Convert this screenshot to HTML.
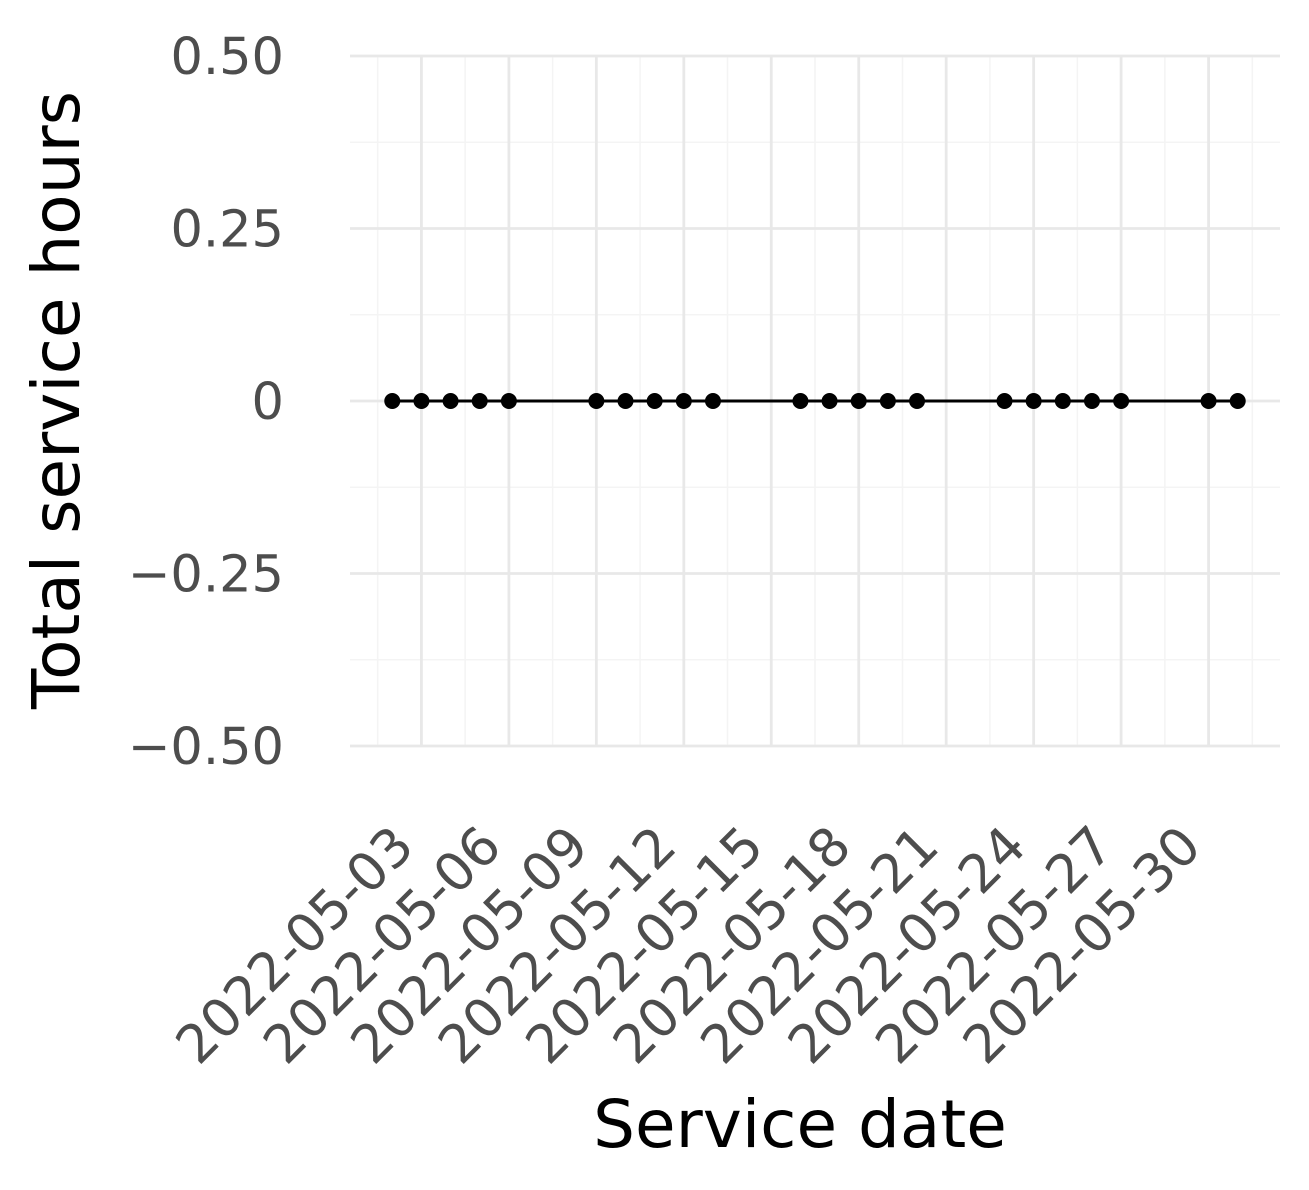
<!DOCTYPE html>
<html><head><meta charset="utf-8"><style>
html,body{margin:0;padding:0;background:#fff;}
svg{display:block;font-family:"DejaVu Sans","Liberation Sans",sans-serif;}
</style></head><body>
<svg id="chart" width="1309" height="1190"></svg>
<script>
const dates = ["2022-05-02","2022-05-03","2022-05-04","2022-05-05","2022-05-06","2022-05-09","2022-05-10","2022-05-11","2022-05-12","2022-05-13","2022-05-16","2022-05-17","2022-05-18","2022-05-19","2022-05-20","2022-05-23","2022-05-24","2022-05-25","2022-05-26","2022-05-27","2022-05-30","2022-05-31"];
const hours = [0,0,0,0,0,0,0,0,0,0,0,0,0,0,0,0,0,0,0,0,0,0];
const xTickLabels = ["2022-05-03","2022-05-06","2022-05-09","2022-05-12","2022-05-15","2022-05-18","2022-05-21","2022-05-24","2022-05-27","2022-05-30"];
const yTicks = [-0.5,-0.25,0,0.25,0.5];
const yTickLabels = ["\u22120.50","\u22120.25","0","0.25","0.50"];

const NS="http://www.w3.org/2000/svg";
const svg=document.getElementById('chart');
const L=350,R=1280,T=56,B=746;
const day=s=>Date.parse(s+"T00:00:00Z")/86400000;
const d0=day("2022-05-02"),d1=day("2022-05-31"),pad=(d1-d0)*0.05;
const x=s=>L+(day(s)-(d0-pad))/((d1-d0)+2*pad)*(R-L);
const xd=v=>L+(v-(d0-pad))/((d1-d0)+2*pad)*(R-L);
const y=v=>T+(0.5-v)/1.0*(B-T);
function mk(tag,attrs,parent){const e=document.createElementNS(NS,tag);for(const k in attrs)e.setAttribute(k,attrs[k]);(parent||svg).appendChild(e);return e;}
const grid=mk('g',{});


for(let i=0;i<yTicks.length-1;i++){const v=(yTicks[i]+yTicks[i+1])/2;mk('line',{x1:L,x2:R,y1:y(v),y2:y(v),stroke:'#f4f4f4','stroke-width':1.5},grid);}
const firstTick=day(xTickLabels[0]);
for(let v=firstTick-12;v<=d1+pad;v+=1.5){const px=xd(v);if(px<L||px>R)continue;mk('line',{x1:px,x2:px,y1:T,y2:B,stroke:'#f4f4f4','stroke-width':1.5},grid);}
yTicks.forEach(v=>mk('line',{x1:L,x2:R,y1:y(v),y2:y(v),stroke:'#e8e8e8','stroke-width':2.8},grid));
xTickLabels.forEach(s=>mk('line',{x1:x(s),x2:x(s),y1:T,y2:B,stroke:'#e8e8e8','stroke-width':2.8},grid));
yTicks.forEach((v,i)=>{const t=mk('text',{x:284,y:y(v)+18,'text-anchor':'end','font-size':51,fill:'#4d4d4d'});t.textContent=yTickLabels[i];

});
xTickLabels.forEach(s=>{const px=x(s)-5,py=849;const t=mk('text',{x:px,y:py,'text-anchor':'end','font-size':53,fill:'#4d4d4d',transform:`rotate(-45 ${px} ${py})`});t.textContent=s;

});
const line=mk('polyline',{points:dates.map((d,i)=>x(d)+','+y(hours[i])).join(' '),fill:'none',stroke:'#000','stroke-width':3});


dates.forEach((d,i)=>{const c=mk('circle',{cx:x(d),cy:y(hours[i]),r:8,fill:'#000'});

});
const xt=mk('text',{x:800,y:1147,'text-anchor':'middle','font-size':66,fill:'#000'});xt.textContent='Service date';


const yt=mk('text',{x:0,y:0,'text-anchor':'middle','font-size':66,fill:'#000',transform:'translate(79 400) rotate(-90)'});yt.textContent='Total service hours';


</script>
</body></html>
